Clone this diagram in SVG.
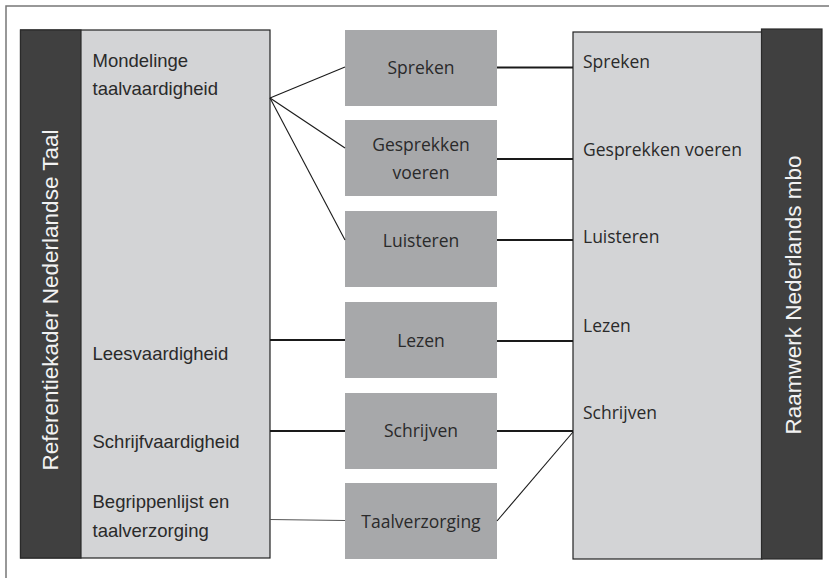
<svg xmlns="http://www.w3.org/2000/svg" width="829" height="578" viewBox="0 0 829 578">
<style>
.frame{fill:none;stroke:#777;stroke-width:1.5}
.light{fill:#d3d4d6;stroke:#222;stroke-width:1.2}
.dark{fill:#404040;stroke:#2a2a2a;stroke-width:1.2}
.mid{fill:#a7a8aa}
.vt{font-family:"Liberation Sans",Arial,sans-serif;font-size:22.5px;fill:#f2f2f2;text-anchor:middle}
.lt{font-family:"Liberation Sans",Arial,sans-serif;font-size:18.5px;fill:#2a2a2a}
.mt{font-family:"Open Sans","Noto Sans",sans-serif;font-size:17.5px;fill:#2a2a2a;text-anchor:middle}
.rt{font-family:"Open Sans","Noto Sans",sans-serif;font-size:17.5px;fill:#2a2a2a}
.c{stroke:#1a1a1a;stroke-width:1.8;fill:none}
.d{stroke:#1a1a1a;stroke-width:1.1;fill:none}
.g{stroke:#555;stroke-width:1.2;fill:none}
</style>
<rect width="829" height="578" fill="#fff"/>
<path class="frame" d="M6,578 V6 H829"/>
<g id="left-box">
  <rect class="light" x="20.5" y="30" width="249.5" height="528"/>
  <rect class="dark" x="20.5" y="30" width="60.5" height="528"/>
  <text class="vt" transform="translate(58.3,300) rotate(-90)">Referentiekader Nederlandse Taal</text>
  <text class="lt" x="92.5" y="66.7">Mondelinge</text>
  <text class="lt" x="92.5" y="95">taalvaardigheid</text>
  <text class="lt" x="92.5" y="360">Leesvaardigheid</text>
  <text class="lt" x="92.5" y="448.3">Schrijfvaardigheid</text>
  <text class="lt" x="92.5" y="508.3">Begrippenlijst en</text>
  <text class="lt" x="92.5" y="536.7">taalverzorging</text>
</g>
<g id="right-box">
  <rect class="light" x="573" y="32" width="189" height="527"/>
  <rect class="dark" x="761.5" y="29" width="60.5" height="530"/>
  <text class="vt" transform="translate(800.5,295) rotate(-90)">Raamwerk Nederlands mbo</text>
  <text class="rt" x="583" y="68.3">Spreken</text>
  <text class="rt" x="583" y="156">Gesprekken voeren</text>
  <text class="rt" x="583" y="242.7">Luisteren</text>
  <text class="rt" x="583" y="332.3">Lezen</text>
  <text class="rt" x="583" y="419.3">Schrijven</text>
</g>
<g id="spreken">
  <rect class="mid" x="345" y="30" width="152" height="76"/>
  <text class="mt" x="421" y="74">Spreken</text>
</g>
<g id="gesprekken">
  <rect class="mid" x="345" y="120" width="152" height="76"/>
  <text class="mt" x="421" y="151">Gesprekken</text>
  <text class="mt" x="421" y="179">voeren</text>
</g>
<g id="luisteren">
  <rect class="mid" x="345" y="211" width="152" height="76"/>
  <text class="mt" x="421" y="246.7">Luisteren</text>
</g>
<g id="lezen">
  <rect class="mid" x="345" y="302" width="152" height="76"/>
  <text class="mt" x="421" y="346.7">Lezen</text>
</g>
<g id="schrijven">
  <rect class="mid" x="345" y="393" width="152" height="76"/>
  <text class="mt" x="421" y="436.7">Schrijven</text>
</g>
<g id="taalverzorging">
  <rect class="mid" x="345" y="483" width="152" height="76"/>
  <text class="mt" x="421" y="528">Taalverzorging</text>
</g>
<g id="connectors">
  <line class="d" x1="270" y1="98" x2="345" y2="67"/>
  <line class="d" x1="270" y1="98" x2="345" y2="148"/>
  <line class="d" x1="270" y1="98" x2="345" y2="240"/>
  <line class="c" x1="497" y1="67.5" x2="573" y2="67.5"/>
  <line class="c" x1="497" y1="159" x2="573" y2="159"/>
  <line class="c" x1="497" y1="240" x2="573" y2="240"/>
  <line class="c" x1="270" y1="340" x2="345" y2="340"/>
  <line class="c" x1="497" y1="341" x2="573" y2="341"/>
  <line class="c" x1="270" y1="431" x2="345" y2="431"/>
  <line class="c" x1="497" y1="431" x2="573" y2="431"/>
  <line class="g" x1="270" y1="519.5" x2="345" y2="520.5"/>
  <line class="d" x1="497" y1="521" x2="573" y2="432"/>
</g>
</svg>
